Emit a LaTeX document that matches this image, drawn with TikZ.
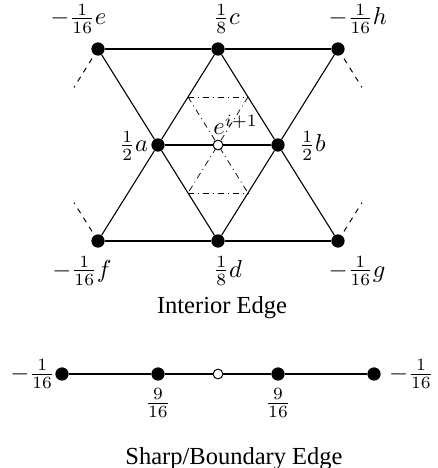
\documentclass[tikz,border=0pt]{standalone}
\usepackage{fontspec}
\setmainfont{Liberation Serif}
\usetikzlibrary{calc,backgrounds}
\begin{document}
\begin{tikzpicture}[x=0.408pt,y=-0.408pt,
  vtx/.style={circle,fill=black,draw=black,inner sep=0pt,minimum size=5pt},
  newv/.style={circle,fill=white,draw=black,line width=0.4pt,inner sep=0pt,minimum size=4pt},
  edge/.style={line width=0.45pt},
  stub/.style={line width=0.4pt,dash pattern=on 2.2pt off 2.2pt},
  mask/.style={line width=0.3pt,dash pattern=on 2.5pt off 1.6pt on 0.4pt off 1.6pt},
  lbl/.style={inner sep=0pt,anchor=base west},
  ttl/.style={inner sep=0pt,anchor=base}]
\useasboundingbox (0,0) rectangle (437,468);
% interior edge stencil
\node[vtx] (e) at (98,49) {};
\node[vtx] (c) at (218,49) {};
\node[vtx] (h) at (338,49) {};
\node[vtx] (a) at (158,145) {};
\node[newv] (o) at (218,145) {};
\node[vtx] (b) at (278,145) {};
\node[vtx] (f) at (98,241) {};
\node[vtx] (d) at (218,241) {};
\node[vtx] (g) at (338,241) {};
\coordinate (xl) at (38,145);
\coordinate (xr) at (398,145);
\begin{scope}[on background layer]
  \draw[edge] (e) -- (c) -- (h);
  \draw[edge] (a) -- (o) -- (b);
  \draw[edge] (f) -- (d) -- (g);
  \draw[edge] (e) -- (a) -- (d);
  \draw[edge] (c) -- (a) -- (f);
  \draw[edge] (c) -- (b) -- (g);
  \draw[edge] (h) -- (b) -- (d);
  \coordinate (m1) at ($(c.center)!0.5!(a.center)$);
  \coordinate (m2) at ($(c.center)!0.5!(b.center)$);
  \coordinate (m3) at ($(a.center)!0.5!(d.center)$);
  \coordinate (m4) at ($(b.center)!0.5!(d.center)$);
  \draw[mask] (m1) -- (m2);
  \draw[mask] (m3) -- (m4);
  \draw[mask] (m1) -- (m4);
  \draw[mask] (m2) -- (m3);
  \draw[stub] ($(e.center)!0.1!(xl)$) -- ($(e.center)!0.4!(xl)$);
  \draw[stub] ($(f.center)!0.1!(xl)$) -- ($(f.center)!0.4!(xl)$);
  \draw[stub] ($(h.center)!0.1!(xr)$) -- ($(h.center)!0.4!(xr)$);
  \draw[stub] ($(g.center)!0.1!(xr)$) -- ($(g.center)!0.4!(xr)$);
\end{scope}
\node[lbl] (le) at (50,25) {$-\frac{1}{16}e$};
\node[lbl] (lc) at (213,25) {$\frac{1}{8}c$};
\node[lbl] (lh) at (328,25) {$-\frac{1}{16}h$};
\node[lbl] (la) at (119,152) {$\frac{1}{2}a$};
\node[lbl] (lb) at (299,152) {$\frac{1}{2}b$};
\node[lbl] (lo) at (213,135) {$e^{i+1}$};
\node[lbl] (lf) at (52,277) {$-\frac{1}{16}f$};
\node[lbl] (ld) at (213,277) {$\frac{1}{8}d$};
\node[lbl] (lg) at (328,277) {$-\frac{1}{16}g$};
\node[ttl] (t1) at (222,313) {Interior Edge};
% sharp / boundary edge stencil
\node[vtx] (s1) at (62,374) {};
\node[vtx] (s2) at (158,374) {};
\node[newv] (s3) at (218,374) {};
\node[vtx] (s4) at (278,374) {};
\node[vtx] (s5) at (374,374) {};
\begin{scope}[on background layer]
  \draw[edge] (s1) -- (s2) -- (s3) -- (s4) -- (s5);
\end{scope}
\node[inner sep=0pt,anchor=east] (w1) at (s1.west) {$-\frac{1}{16}$};
\node[inner sep=0pt,anchor=west] (w5) at ($(s5.east)+(8,0)$) {$-\frac{1}{16}$};
\node[inner sep=0pt] (w2) at (158,403) {$\frac{9}{16}$};
\node[inner sep=0pt] (w4) at (278,403) {$\frac{9}{16}$};
\node[ttl] (t2) at (234,464) {Sharp/Boundary Edge};
\end{tikzpicture}
\end{document}
